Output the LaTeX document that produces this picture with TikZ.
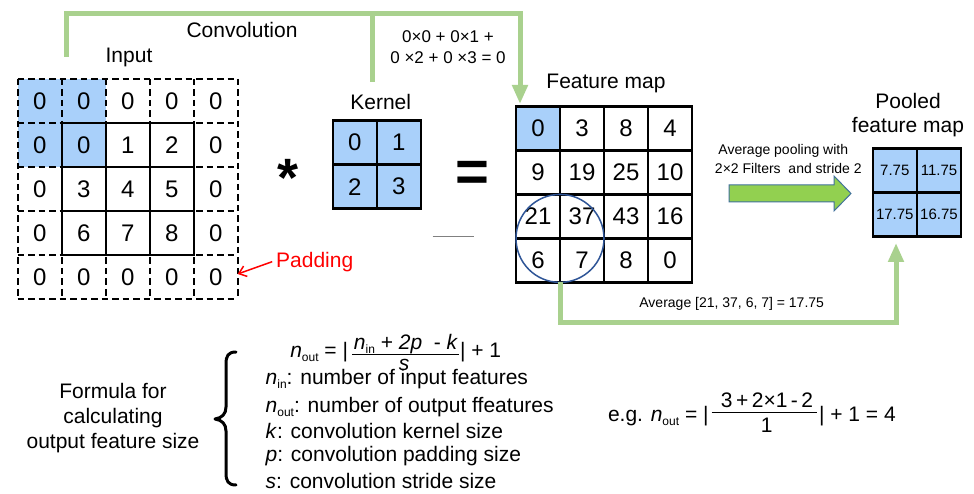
\documentclass[tikz,border=0pt]{standalone}
\usepackage{fontspec}
\setmainfont{Liberation Sans}
\usetikzlibrary{arrows.meta}
\definecolor{cellblue}{RGB}{169,208,250}
\definecolor{convgreen}{RGB}{169,209,142}
\definecolor{arrowgreen}{RGB}{146,208,80}
\definecolor{arrowedge}{RGB}{65,113,156}
\definecolor{circblue}{RGB}{47,85,151}
\newcommand\lowsub[1]{\raisebox{-0.2em}{\fontsize{12}{12}\selectfont #1}}
\newcommand\fsz[1]{\fontsize{#1}{#1}\selectfont}
\begin{document}
\begin{tikzpicture}[x=1pt,y=-1pt,
  every node/.style={inner sep=0pt,outer sep=0pt},
  celltext/.style={minimum width=44pt,minimum height=44pt,font=\fsz{24}},
  boxcell/.style={celltext,draw,line width=2.4pt},
  padline/.style={line width=2.2pt,dash pattern=on 6.5pt off 4pt},
  inline/.style={line width=2.4pt,line cap=rect},
  lbl/.style={font=\fsz{21}},
  small/.style={font=\fsz{14}},
  gline/.style={draw=convgreen,line width=5pt},
  garrow/.style={gline,-{Triangle[width=15pt,length=19pt]}},
]
\useasboundingbox (0,0) rectangle (974,494);
\fill[white] (0,0) rectangle (974,494);

% ---------- Input grid ----------
\fill[cellblue] (17.7,79) rectangle (105.7,167);
\foreach \i in {0,...,5} {
  \draw[padline] ({17.7+44*\i},79) -- ({17.7+44*\i},299);
  \draw[padline] (17.7,{79+44*\i}) -- (237.7,{79+44*\i});
}
\foreach \i in {1,...,4} {
  \draw[inline] ({17.7+44*\i},123) -- ({17.7+44*\i},255);
  \draw[inline] (61.7,{79+44*\i}) -- (193.7,{79+44*\i});
}
\foreach \row [count=\r from 0] in {{0,0,0,0,0},{0,0,1,2,0},{0,3,4,5,0},{0,6,7,8,0},{0,0,0,0,0}} {
  \foreach \v [count=\c from 0] in \row {
    \node[celltext] (in-\r-\c) at ({39.7+44*\c},{101+44*\r}) {\v};
  }
}
\node[lbl] (inputlbl) at (129,57) {Input};

% ---------- Kernel ----------
\node[lbl] (kernellbl) at (380.7,101.7) {Kernel};
\foreach \row [count=\r from 0] in {{0,1},{2,3}} {
  \foreach \v [count=\c from 0] in \row {
    \node[boxcell,fill=cellblue] (k-\r-\c) at ({354.7+44*\c},{142.7+44*\r}) {\v};
  }
}
\node[font=\fontsize{54}{54}\bfseries\selectfont,anchor=base] (star) at (288,197) {*};
\node[font=\fontsize{58}{58}\bfseries\selectfont,anchor=base] (eq) at (472,191.5) {=};
\draw[line width=1.3pt,color=gray] (432.7,236.7) -- (474,236.7);

% ---------- Feature map ----------
\node[lbl] (fmlbl) at (606,83) {Feature map};
\foreach \row [count=\r from 0] in {{0,3,8,4},{9,19,25,10},{21,37,43,16},{6,7,8,0}} {
  \foreach \v [count=\c from 0] in \row {
    \node[boxcell] (fm-\r-\c) at ({538+44*\c},{128.4+44*\r}) {\v};
  }
}
\node[boxcell,fill=cellblue] at (fm-0-0) {0};
\draw[circblue,line width=1.5pt] (fm-2-0.south east) circle[radius=44pt];

% ---------- Pooled ----------
\node[lbl,align=center,font=\fontsize{21}{24.6}\selectfont] (pllbl) at (908,115) {Pooled\\feature map};
\foreach \row [count=\r from 0] in {{7.75,11.75},{17.75,16.75}} {
  \foreach \v [count=\c from 0] in \row {
    \node[boxcell,fill=cellblue,font=\fsz{15}] (pl-\r-\c) at ({894.8+44.2*\c},{170.4+44.2*\r}) {\v};
  }
}
\node[small] (avgp1) at (783.3,151) {Average pooling with};
\node[small] (avgp2) at (788.3,168.3) {2×2 Filters\ \ and stride 2};
\draw[fill=arrowgreen,draw=arrowedge,line width=1pt]
  (729,185) -- (834,185) -- (834,176) -- (851,193.5) -- (834,211) -- (834,202) -- (729,202) -- cycle;

% ---------- Green connectors ----------
\node[lbl] (convlbl) at (242,30) {Convolution};
\node[font=\fontsize{17}{21}\selectfont,align=center] (calc) at (448,47.2) {0×0 + 0×1 +\\0 ×2 + 0 ×3 = 0};
\coordinate (gL) at (66,57);
\coordinate (gT) at (520,14);
\coordinate (gR) at (520,104);
\coordinate (gK) at (372,82);
\draw[garrow] (gL) |- (gT) -- (gR);
\draw[gline] (gK) -- (gK |- gT);
\coordinate (gB) at (896,243);
\draw[garrow] (fm-3-0.south east) -- ++(0,40) -| (gB);
\node[small] (avglbl) at (731.7,304) {Average [21, 37, 6, 7] = 17.75};

% ---------- Padding ----------
\node[lbl,text=red] (pad) at (314.7,261.7) {Padding};
\draw[red,line width=1.5pt,-{Straight Barb[length=7pt,width=11pt]}] ([xshift=-4pt]pad.west) -- ([yshift=3pt]in-4-4.east);

% ---------- Formula ----------
\node[lbl,align=center,font=\fontsize{21}{25}\selectfont] (formlbl) at (113,418.3) {Formula for\\calculating\\output feature size};
\draw[line width=3pt,line cap=round,line join=round]
  (236,352) .. controls (228,352) and (226,356) .. (226,364) -- (226,407)
  .. controls (226,414) and (222,418) .. (215,419)
  .. controls (222,420) and (226,424) .. (226,431) -- (226,473)
  .. controls (226,481) and (228,485) .. (236,485);
\node[lbl,anchor=base east] (f1a) at (348,357) {\textit{n}\lowsub{out} = |};
\node[lbl,anchor=base] (f1n) at (406,349) {\textit{n}\lowsub{in} + \textit{2p}\ \ - \textit{k}};
\draw[line width=1pt] (352,354.5) -- (459,354.5);
\node[lbl,anchor=base] (f1d) at (404,370) {\textit{s}};
\node[lbl,anchor=base west] (f1b) at (460,357) {| + 1};
\node[lbl,anchor=west] (f2) at (265.7,379.3) {\textit{n}\lowsub{in}: number of input features};
\node[lbl,anchor=west] (f3) at (265.7,406.7) {\textit{n}\lowsub{out}: number of output ffeatures};
\node[lbl,anchor=west] (f4) at (265.7,431) {\textit{k}: convolution kernel size};
\node[lbl,anchor=west] (f5) at (265.7,456) {\textit{p}: convolution padding size};
\node[lbl,anchor=west] (f6) at (265.7,481) {\textit{s}: convolution stride size};

% ---------- Example ----------
\node[lbl,anchor=base west] (eg1) at (608,421) {e.g. \textit{n}\lowsub{out} = |};
\node[lbl,anchor=base] (egn) at (767,407.5) {3\,+\,2×1\,-\,2};
\draw[line width=1pt] (711.7,412.7) -- (817,412.7);
\node[lbl,anchor=base] (egd) at (766.7,432.5) {1};
\node[lbl,anchor=base west] (eg2) at (819,421) {| + 1 = 4};
\end{tikzpicture}
\end{document}
